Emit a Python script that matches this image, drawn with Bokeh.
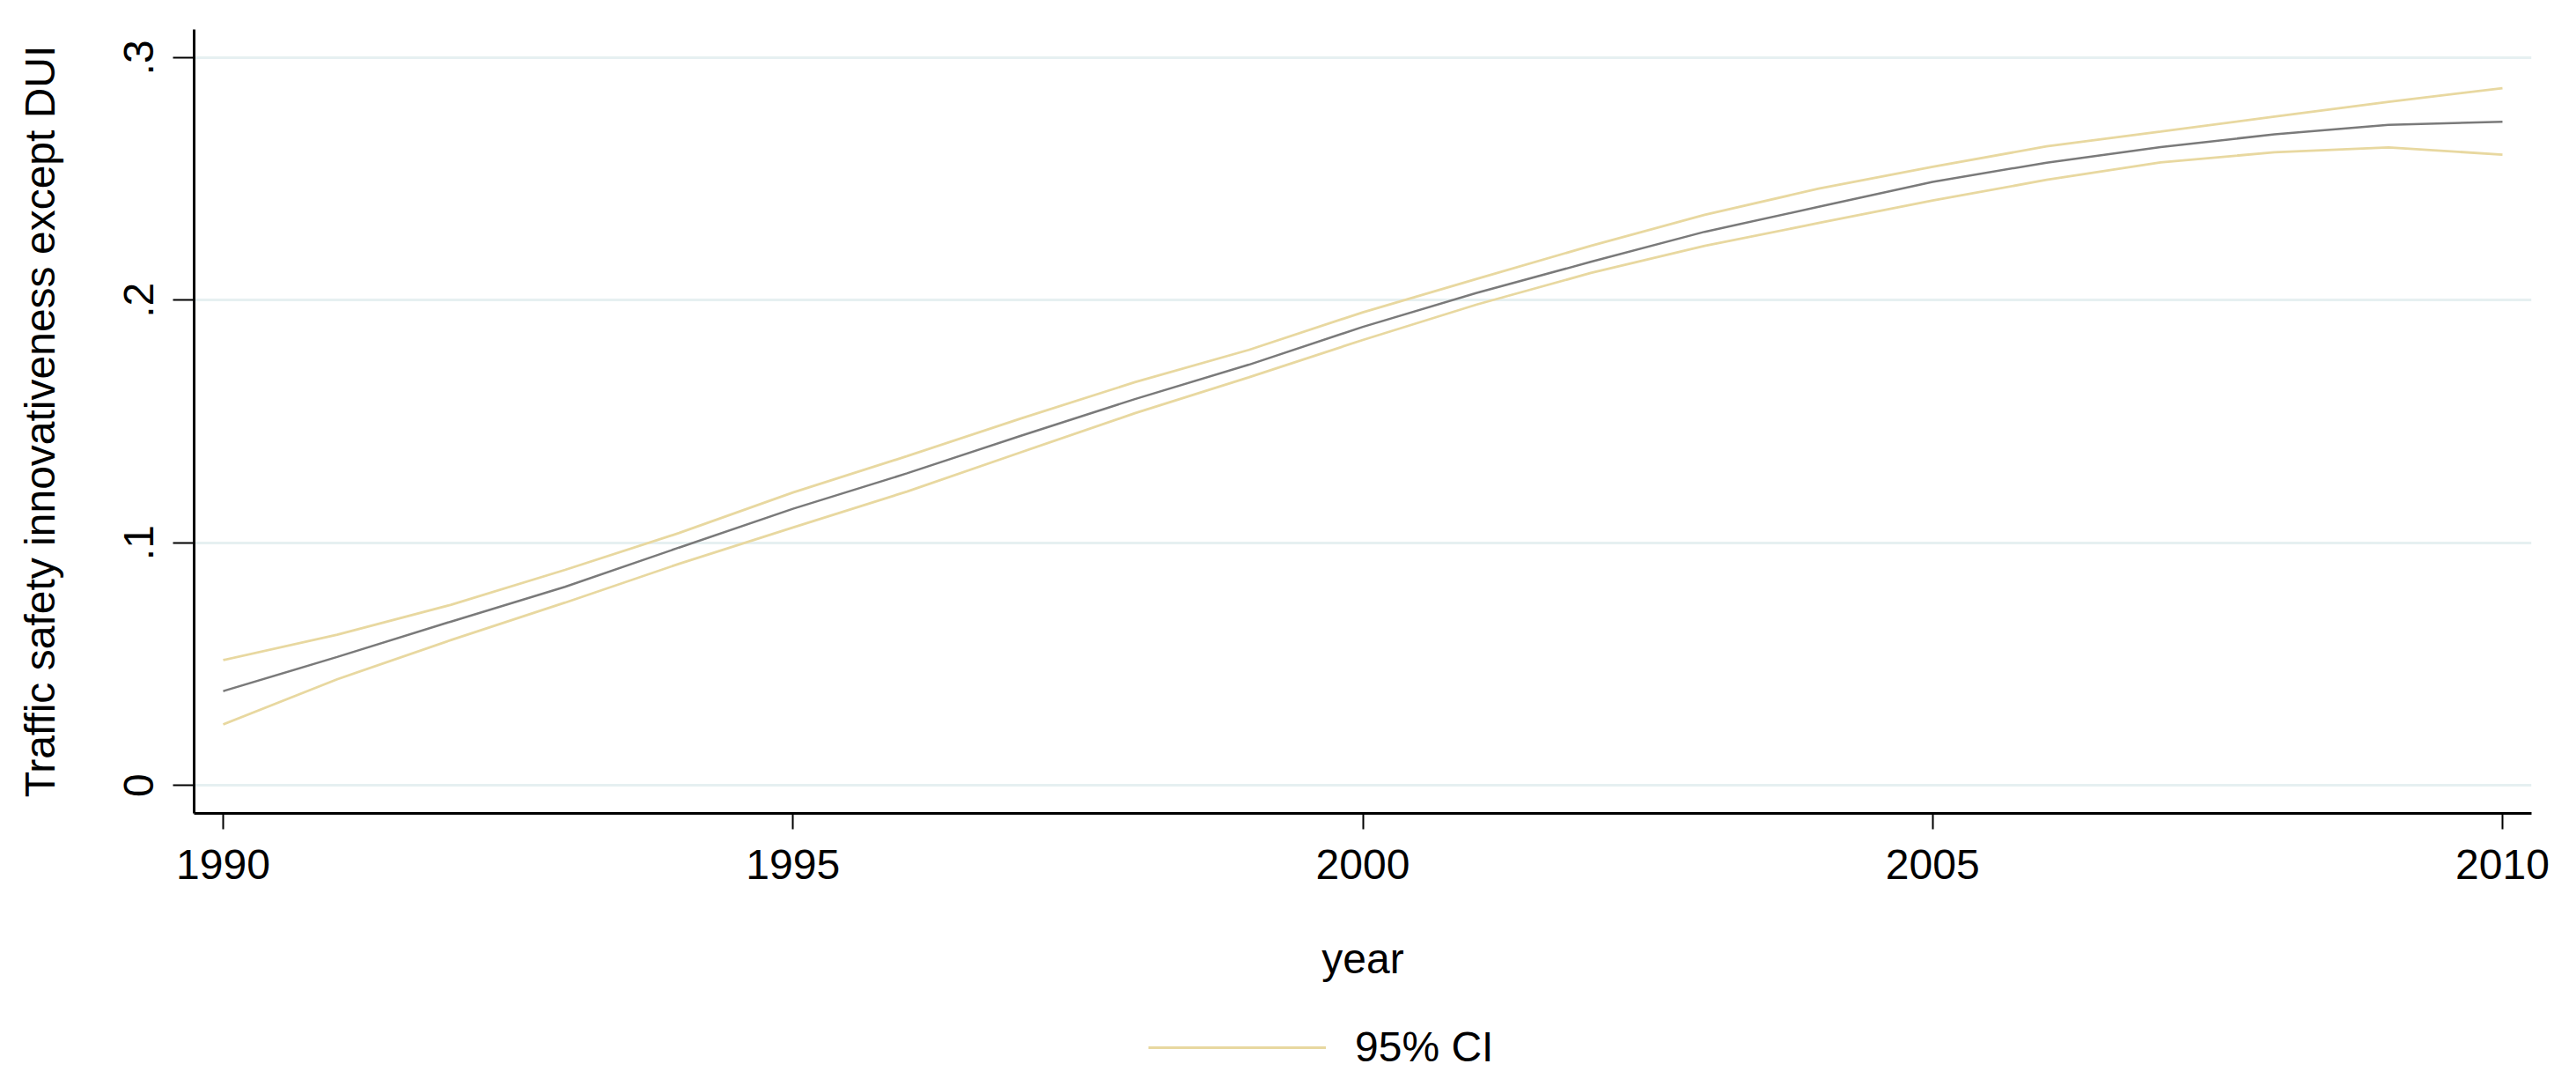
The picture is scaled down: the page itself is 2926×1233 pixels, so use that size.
from bokeh.plotting import figure
from bokeh.layouts import column
from bokeh.models import Range1d, FixedTicker, Legend, LegendItem, ColumnDataSource
from bokeh.embed import file_html
from bokeh.resources import INLINE

years = [1990, 1991, 1992, 1993, 1994, 1995, 1996, 1997, 1998, 1999, 2000,
         2001, 2002, 2003, 2004, 2005, 2006, 2007, 2008, 2009, 2010]
fit = [0.0388, 0.0529, 0.0675, 0.0818, 0.0980, 0.1140, 0.1286, 0.1441, 0.1592, 0.1734, 0.1890,
       0.2030, 0.2158, 0.2282, 0.2385, 0.2488, 0.2567, 0.2631, 0.2684, 0.2723, 0.2736]
upper = [0.0516, 0.0621, 0.0744, 0.0888, 0.1040, 0.1207, 0.1357, 0.1512, 0.1662, 0.1795, 0.1950,
         0.2088, 0.2224, 0.2352, 0.2460, 0.2550, 0.2634, 0.2695, 0.2757, 0.2818, 0.2874]
lower = [0.0251, 0.0437, 0.0599, 0.0753, 0.0913, 0.1063, 0.1211, 0.1373, 0.1534, 0.1682, 0.1836,
         0.1982, 0.2112, 0.2224, 0.2318, 0.2411, 0.2496, 0.2568, 0.2610, 0.2630, 0.2600]

x_ticks = [1990, 1995, 2000, 2005, 2010]
y_ticks = [0.0, 0.1, 0.2, 0.3]
y_tick_labels = {0.0: "0", 0.1: ".1", 0.2: ".2", 0.3: ".3"}
legend_label = "95% CI"

FONT = "Liberation Sans"
FS = "48px"
CI_COLOR = "#E8D8A0"
FIT_COLOR = "#7A7A7A"
GRID_COLOR = "#E6F0F1"

src = ColumnDataSource(dict(year=years, fit=fit, upper=upper, lower=lower))

p = figure(width=2910, height=1150, output_backend="svg", toolbar_location=None,
           x_range=Range1d(1989.745, 2010.255), y_range=Range1d(-0.0116, 0.3116),
           min_border_left=220, min_border_right=35, min_border_top=33, min_border_bottom=227)
p.outline_line_color = None
p.background_fill_color = "white"
p.border_fill_color = "white"

r_up = p.line("year", "upper", source=src, line_color=CI_COLOR, line_width=2.8)
r_lo = p.line("year", "lower", source=src, line_color=CI_COLOR, line_width=2.8)
r_fit = p.line("year", "fit", source=src, line_color=FIT_COLOR, line_width=2.5)

# axes
p.xaxis.ticker = FixedTicker(ticks=x_ticks)
p.yaxis.ticker = FixedTicker(ticks=y_ticks)
p.yaxis.major_label_overrides = y_tick_labels
p.yaxis.major_label_orientation = "vertical"
p.xaxis.axis_label = "year"
p.yaxis.axis_label = "Traffic safety innovativeness except DUI"

for ax in (p.xaxis[0], p.yaxis[0]):
    ax.axis_line_color = "black"
    ax.axis_line_width = 3
    ax.major_tick_line_color = "black"
    ax.major_tick_line_width = 2
    ax.major_tick_in = 0
    ax.minor_tick_line_color = None
    ax.major_label_text_font = FONT
    ax.major_label_text_font_size = FS
    ax.major_label_text_color = "black"
    ax.axis_label_text_font = FONT
    ax.axis_label_text_font_size = FS
    ax.axis_label_text_font_style = "normal"
    ax.axis_label_text_color = "black"

p.xaxis.major_tick_out = 18
p.yaxis.major_tick_out = 24
p.xaxis.major_label_standoff = 23
p.yaxis.major_label_standoff = 22
p.xaxis.axis_label_standoff = 61
p.yaxis.axis_label_standoff = 67

p.xgrid.grid_line_color = None
p.ygrid.grid_line_color = GRID_COLOR
p.ygrid.grid_line_width = 3

# legend strip below the chart
lg = figure(width=2910, height=67, output_backend="svg", toolbar_location=None,
            x_range=Range1d(0, 1), y_range=Range1d(0, 1),
            x_axis_location=None, y_axis_location=None,
            min_border_left=0, min_border_right=0, min_border_top=0, min_border_bottom=0)
lg.outline_line_color = None
lg.xgrid.grid_line_color = None
lg.ygrid.grid_line_color = None
lg.background_fill_color = "white"
lg.border_fill_color = "white"
key = lg.line(x=[-5, -4], y=[-5, -4], line_color=CI_COLOR, line_width=3)

legend = Legend(items=[LegendItem(label=legend_label, renderers=[key])],
                location=(1084, 1), orientation="horizontal",
                glyph_width=202, glyph_height=40, label_standoff=33,
                label_text_font=FONT, label_text_font_size=FS, label_text_color="black",
                padding=0, margin=0, border_line_color=None, background_fill_alpha=0)
lg.add_layout(legend, "center")

layout = column(p, lg, spacing=0)
open("out.html", "w").write(file_html(layout, INLINE))
